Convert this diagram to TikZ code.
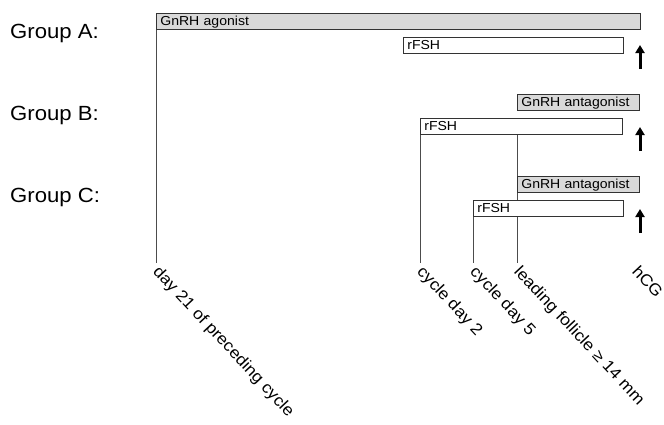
\documentclass[tikz,border=0pt]{standalone}
\usepackage{fontspec}
\setmainfont[FakeStretch=1.08]{Liberation Sans}
\usetikzlibrary{arrows.meta,backgrounds}
\begin{document}
\begin{tikzpicture}[x=1pt,y=-1pt,
  bar/.style={draw=black!80, line width=0.7pt, rectangle, anchor=north west,
    minimum height=15.5pt, inner xsep=4pt, inner ysep=0pt, text height=9pt,
    text depth=0pt, align=left, font=\fontsize{13}{13}\selectfont},
  gbar/.style={bar, fill=black!15},
  wbar/.style={bar, fill=white},
  tick/.style={draw=black!70, line width=0.7pt},
  hcgarrow/.style={line width=3pt, -{Triangle[width=9pt,length=8pt]}},
  grp/.style={anchor=base west, inner sep=0pt, font=\fontsize{20.5}{20.5}\selectfont},
  rot/.style={anchor=north west, rotate=-47, inner sep=0pt, font=\fontsize{16.2}{16.2}\selectfont}]
\useasboundingbox (0,0) rectangle (664,424);

% group labels
\node[grp] (gA) at (10,38) {Group A:};
\node[grp] (gB) at (10,120) {Group B:};
\node[grp] (gC) at (10,202) {Group C:};

% bars
\node[gbar, text width=476pt] (ago) at (156,13) {GnRH agonist};
\node[wbar, text width=212pt] (rfshA) at (403,37) {rFSH};
\node[gbar, text width=114pt] (antB) at (517,94) {GnRH antagonist};
\node[wbar, text width=194pt] (rfshB) at (420,118) {rFSH};
\node[gbar, text width=114pt] (antC) at (517,176) {GnRH antagonist};
\node[wbar, text width=142pt] (rfshC) at (473,200) {rFSH};

% bottom ends of time lines
\coordinate (e21) at (156,263);
\coordinate (e2) at (420,263);
\coordinate (e5) at (473,263);
\coordinate (e14) at (517,263);
\coordinate (ehcg) at (640,263);

\begin{pgfonlayer}{background}
\draw[tick] (ago.south west) -- (e21);
\draw[tick] (rfshB.south west) -- (e2);
\draw[tick] (rfshC.south west) -- (e5);
\draw[tick] (rfshB.south -| antB.west) -- (e14);
\end{pgfonlayer}

% hCG arrows
\coordinate (aA0) at (640,69);  \coordinate (aA1) at (640,45);
\coordinate (aB0) at (640,151); \coordinate (aB1) at (640,127);
\coordinate (aC0) at (640,233); \coordinate (aC1) at (640,209);
\draw[hcgarrow] (aA0) -- (aA1);
\draw[hcgarrow] (aB0) -- (aB1);
\draw[hcgarrow] (aC0) -- (aC1);

% rotated labels
\node[rot] (l21) at ([xshift=5pt,yshift=-1pt]e21) {day 21 of preceding cycle};
\node[rot] (l2) at ([xshift=5pt,yshift=-1pt]e2) {cycle day 2};
\node[rot] (l5) at ([xshift=5pt,yshift=-1pt]e5) {cycle day 5};
\node[rot] (l14) at ([xshift=5pt,yshift=-1pt]e14) {leading follicle ≥ 14 mm};
\node[rot] (lhcg) at ([xshift=0pt,yshift=-1pt]ehcg) {hCG};
\end{tikzpicture}
\end{document}
